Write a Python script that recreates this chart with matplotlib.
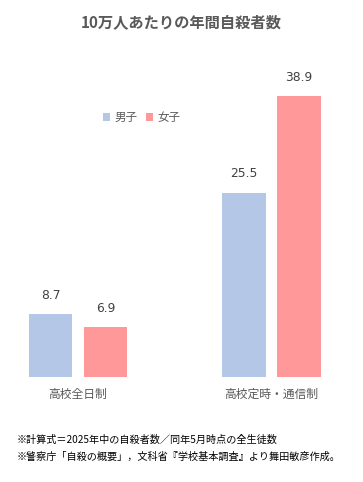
import matplotlib.pyplot as plt
import numpy as np

plt.rcParams['font.family'] = ['Noto Sans CJK JP', 'DejaVu Sans']

categories = ['高校全日制', '高校定時・通信制']
male = [8.7, 25.5]
female = [6.9, 38.9]
series_names = ['男子', '女子']
title = '10万人あたりの年間自殺者数'
notes = ['※計算式＝2025年中の自殺者数／同年5月時点の全生徒数',
         '※警察庁「自殺の概要」，文科省『学校基本調査』より舞田敏彦作成。']

c_male = '#B4C7E7'
c_female = '#FF9999'
gray = '#595959'

W, H = 363, 482
fig = plt.figure(figsize=(W / 100, H / 100), dpi=100)

# axes placed in pixel terms: baseline at y=377, 7.22 px per unit
y_bottom = 377
ymax = 44
ax_h = ymax * 7.22
ax_left, ax_right = 10, 353
ax = fig.add_axes([ax_left / W, 1 - y_bottom / H, (ax_right - ax_left) / W, ax_h / H])

x = np.arange(len(categories))
bw = 0.225
off = 0.142
b1 = ax.bar(x - off, male, bw, color=c_male, label=series_names[0])
b2 = ax.bar(x + off, female, bw, color=c_female, label=series_names[1])

for bars in (b1, b2):
    for r in bars:
        ax.annotate(f'{r.get_height():.1f}', (r.get_x() + r.get_width() / 2, r.get_height()),
                    xytext=(0, 9), textcoords='offset points', ha='center', va='bottom',
                    fontsize=8.8, color='#404040', family='DejaVu Sans')

ax.set_xlim((ax_left - 78) / 193.5, (ax_right - 78) / 193.5)
ax.set_ylim(0, ymax)
ax.set_xticks(x)
ax.set_xticklabels(categories, fontsize=8.5, color=gray)
ax.tick_params(axis='x', length=0, pad=8)
ax.set_yticks([])
for s in ax.spines.values():
    s.set_visible(False)

ax.legend(loc='upper left', bbox_to_anchor=(88 / (ax_right - ax_left), 1 - (116 - (y_bottom - ax_h)) / ax_h + 0.03),
          ncol=2, frameon=False, fontsize=8.3, handlelength=0.6, handleheight=0.6,
          handletextpad=0.4, columnspacing=0.8, labelcolor=gray, borderaxespad=0)

fig.text(0.5, 1 - 22 / H, title, ha='center', va='center', fontsize=11, fontweight='bold', color=gray)
fig.text(17 / W, 1 - 440 / H, notes[0], ha='left', va='center', fontsize=7.3, color='black')
fig.text(17 / W, 1 - 457 / H, notes[1], ha='left', va='center', fontsize=7.3, color='black')

fig.savefig('out.png', dpi=100)
